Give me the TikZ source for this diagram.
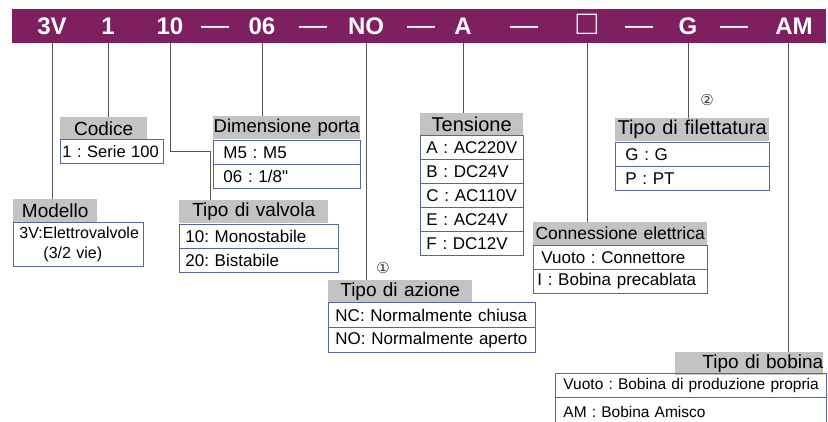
\documentclass[tikz,border=0pt]{standalone}
\usepackage{fontspec}
\setmainfont{Liberation Sans}
\newfontfamily\symfont{DejaVu Sans}
\frenchspacing

\definecolor{barpurple}{HTML}{7E1F5F}
\definecolor{headgray}{HTML}{C3C3C3}
\definecolor{rowblue}{HTML}{5565A3}
\definecolor{wiregray}{HTML}{555555}

\tikzset{
  code/.style={text=white, font=\fontsize{24}{24}\selectfont\bfseries, inner sep=0pt, minimum height=34pt,
    text height=17pt, text depth=0pt},
  dashsign/.style={code, font=\fontsize{28}{28}\selectfont},
  head/.style={fill=headgray, anchor=north west, inner xsep=0pt, inner ysep=0pt, minimum height=23pt,
    font=\fontsize{19}{19}\selectfont, text width=#1, align=center},
  row/.style={draw=rowblue, line width=0.9pt, anchor=north west, inner xsep=6pt, inner ysep=0pt,
    minimum height=24pt, font=\fontsize{17}{17}\selectfont, text width=#1, align=left},
  wire/.style={draw=wiregray, line width=0.9pt},
  mark num/.style={font=\symfont\fontsize{15}{15}\selectfont, inner sep=0pt, text=black!80}
}

\begin{document}
\begin{tikzpicture}[x=1pt, y=-1pt]
  \clip (0,0) rectangle (828,422);
  \fill[barpurple] (12,9) rectangle (826,43);

  % codice sulla barra
  \node[code] (c3v) at (52,26) {3V};
  \node[code] (c1) at (108,26) {1};
  \node[code] (c10) at (170,26) {10};
  \node[code] (c06) at (262,26) {06};
  \node[code] (cno) at (366,26) {NO};
  \node[code] (ca) at (463,26) {A};
  \node[code, font=\fontsize{34}{34}\selectfont] (cbox) at (587,26) {□};
  \node[code] (cg) at (688,26) {G};
  \node[code] (cam) at (794,26) {AM};
  \foreach \i/\x in {1/215, 2/313, 3/421, 4/524, 5/639, 6/734}
    \node[dashsign] (dash\i) at (\x,26) {—};

  % Modello
  \node[head=84pt] (modello) at (13,199) {Modello};
  \node[row=118pt, minimum height=44pt, font=\fontsize{16}{20}\selectfont] (modello1) at (13,222)
    {3V:Elettrovalvole\\\hspace*{24pt}(3/2 vie)};

  % Codice
  \node[head=87pt] (codice) at (60,117) {Codice};
  \node[row=99pt, inner xsep=2pt, font=\fontsize{16.5}{16.5}\selectfont] (codice1) at (60,139) {1 : Serie 100};

  % Dimensione porta
  \node[head=147pt, font=\fontsize{18.5}{18.5}\selectfont] (dim) at (213,116) {Dimensione porta};
  \node[row=127pt, inner xsep=10pt] (dim1) at (213,140) {M5 : M5};
  \node[row=127pt, inner xsep=10pt] (dim2) at (213,164) {06 : 1/8\textquotedbl};

  % Tipo di valvola
  \node[head=149pt] (valvola) at (179,200) {Tipo di valvola};
  \node[row=147pt] (valvola1) at (179,224) {10: Monostabile};
  \node[row=147pt] (valvola2) at (179,248) {20: Bistabile};

  % Tensione
  \node[head=103pt, font=\fontsize{20}{20}\selectfont] (tens) at (420,113) {Tensione};
  \node[row=91pt] (tens1) at (420,135) {A : AC220V};
  \node[row=91pt] (tens2) at (420,159) {B : DC24V};
  \node[row=91pt] (tens3) at (420,183) {C : AC110V};
  \node[row=91pt] (tens4) at (420,207) {E : AC24V};
  \node[row=91pt] (tens5) at (420,231) {F : DC12V};

  % Tipo di azione
  \node[mark num] (num1) at (383,268) {①};
  \node[head=144pt] (azione) at (328,280) {Tipo di azione};
  \node[row=193pt, inner xsep=7pt, minimum height=25pt] (azione1) at (328,302) {NC: Normalmente chiusa};
  \node[row=193pt, inner xsep=7pt, minimum height=25pt] (azione2) at (328,327) {NO: Normalmente aperto};

  % Connessione elettrica
  \node[head=174pt, font=\fontsize{17.5}{17.5}\selectfont] (conn) at (533,222) {Connessione elettrica};
  \node[row=166pt, inner xsep=4pt, font=\fontsize{17}{17}\selectfont] (conn1) at (533,245) {\hspace*{4pt}Vuoto : Connettore};
  \node[row=166pt, inner xsep=4pt, font=\fontsize{17}{17}\selectfont] (conn2) at (533,269) {I : Bobina precablata};

  % Tipo di filettatura
  \node[mark num] (num2) at (707,100) {②};
  \node[head=154pt, font=\fontsize{20}{20}\selectfont] (filet) at (615,118) {Tipo di filettatura};
  \node[row=134pt, inner xsep=10pt] (filet1) at (615,142) {G : G};
  \node[row=134pt, inner xsep=10pt] (filet2) at (615,166) {P : PT};

  % Tipo di bobina
  \node[head=148pt, align=right] (bobina) at (675,352) {Tipo di bobina};
  \node[row=255pt, inner xsep=8pt, font=\fontsize{15.5}{15.5}\selectfont] (bobina1) at (555,373) {\mbox{Vuoto : Bobina di produzione propria}};
  \node[row=255pt, inner xsep=8pt, minimum height=30pt, font=\fontsize{15.5}{15.5}\selectfont] (bobina2) at (555,397) {AM : Bobina Amisco};

  % collegamenti
  \coordinate (k10) at (210,151);
  \draw[wire] (c3v.south) -- (c3v.south |- modello.north);
  \draw[wire] (c1.south) -- (c1.south |- codice.north);
  \draw[wire] (c10.south) |- (k10) -- (k10 |- valvola.north);
  \draw[wire] (c06.south) -- (c06.south |- dim.north);
  \draw[wire] (cno.south) -- (cno.south |- azione.north);
  \draw[wire] (ca.south) -- (ca.south |- tens.north);
  \draw[wire] (cbox.south) -- (cbox.south |- conn.north);
  \draw[wire] (cg.south) -- (cg.south |- filet.north);
  \draw[wire] ([xshift=-6pt]cam.south) -- ([xshift=-6pt]cam.south |- bobina.north);
\end{tikzpicture}
\end{document}
